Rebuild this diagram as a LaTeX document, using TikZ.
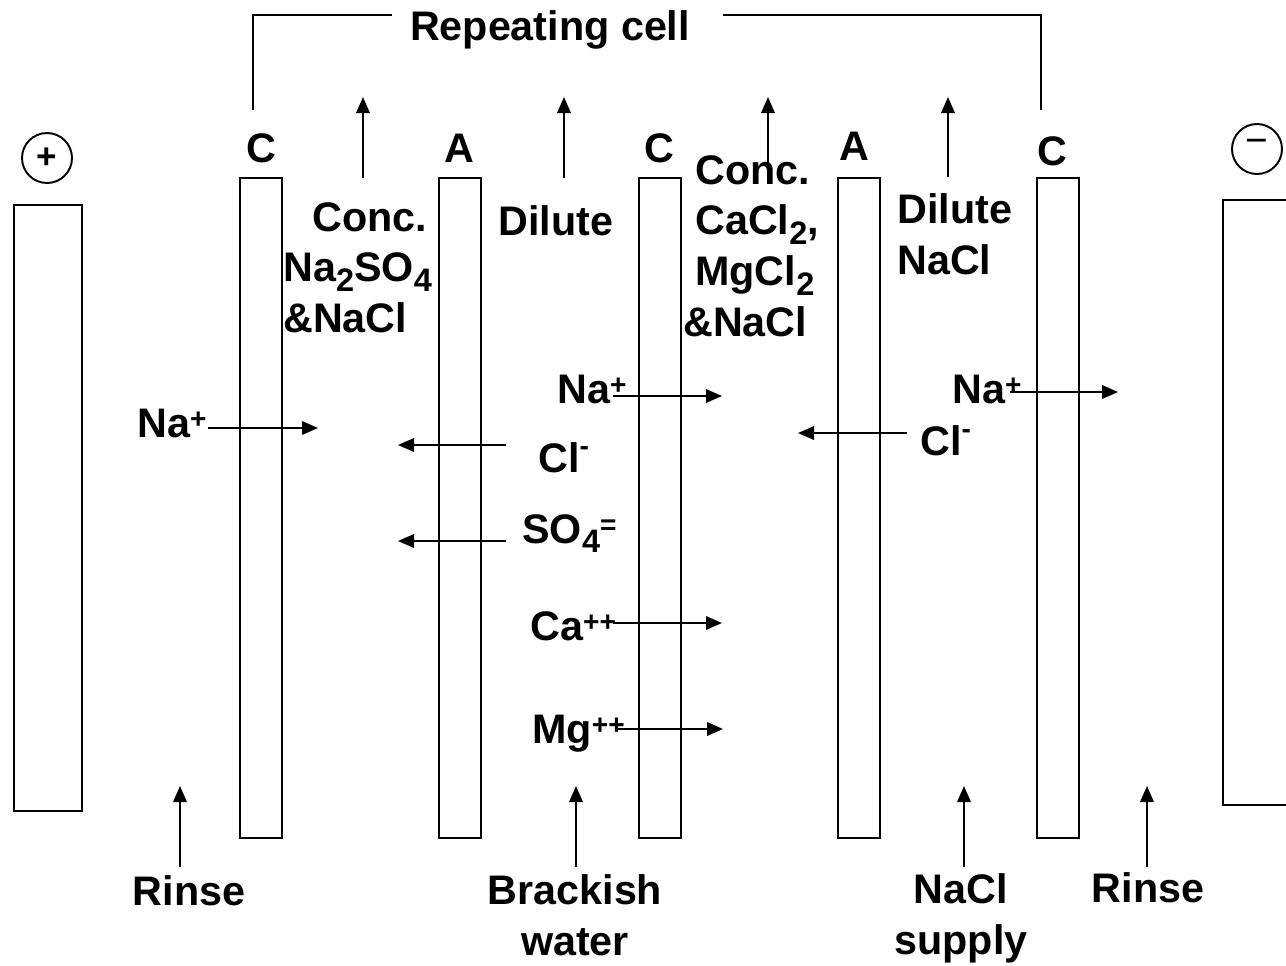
\documentclass[tikz,border=0pt]{standalone}
\usepackage{fontspec}
\setmainfont{Liberation Sans}
\usepackage{tikz}
\usetikzlibrary{arrows.meta}
\newcommand\ionsup[2][5pt]{\raisebox{#1}{\fontsize{16}{16}\selectfont #2}}
\newcommand\ionsub[1]{\raisebox{-5.5pt}{\fontsize{18.5}{18.5}\selectfont #1}}

\begin{document}
\begin{tikzpicture}[
  x=0.02cm, y=-0.02cm,
  every node/.style={font=\fontsize{23.5}{28.9}\selectfont\bfseries, inner sep=0pt},
  membrane/.style={draw, line width=1.1pt, minimum width=0.84cm, minimum height=13.2cm},
  electrode/.style={draw, line width=1.1pt, minimum width=1.36cm, minimum height=12.12cm},
  pole/.style={draw, circle, line width=1.1pt, minimum size=1cm},
  lbl/.style={anchor=base},
  ion/.style={anchor=base west},
  arr/.style={-{Triangle[length=0.32cm,width=0.27cm]}, line width=1.1pt},
  bracket/.style={line width=0.75pt}
]
  \useasboundingbox (0,0) rectangle (1286,965);

  % electrodes
  \node[electrode] (anode) at (48,508) {};
  \node[electrode, minimum width=2cm] (cathode) at (1273,502.5) {};
  \node[pole] (plus) at (47,158) {\fontsize{20}{22}\selectfont +};
  \node[pole] (minus) at (1257,149) {\raisebox{3pt}{\fontsize{22}{24}\selectfont\mdseries −}};

  % membranes
  \node[membrane] (c1) at (261,508) {};
  \node[membrane] (a1) at (460,508) {};
  \node[membrane] (c2) at (660,508) {};
  \node[membrane] (a2) at (859,508) {};
  \node[membrane] (c3) at (1058,508) {};
  \node[lbl] (c1lbl) at (261,162) {C};
  \node[lbl] (a1lbl) at (459,162) {A};
  \node[lbl] (c2lbl) at (659,162) {C};
  \node[lbl] (a2lbl) at (854,160) {A};
  \node[lbl] (c3lbl) at (1052,165) {C};

  % repeating cell bracket
  \node[lbl] (cell) at (550,40) {Repeating cell};
  \coordinate (cellL) at (253,110);
  \coordinate (cellLend) at (392,15);
  \coordinate (cellR) at (1041,110);
  \coordinate (cellRend) at (723,15);
  \draw[bracket] (cellL) |- (cellLend);
  \draw[bracket] (cellR) |- (cellRend);

  % outlet streams
  \node[anchor=north west, align=left] (concA) at (283,202) {\hspace*{0.58cm}Conc.\\Na\ionsub{2}SO\ionsub{4}\\\&NaCl};
  \node[anchor=north] (dilA) at (556,205) {Dilute};
  \node[anchor=north west, align=left] (concB) at (695,155) {Conc.\\CaCl\ionsub{2},\\MgCl\ionsub{2}\\\hspace*{-0.24cm}\&NaCl};
  \node[anchor=north west, align=left] (dilB) at (897,193) {Dilute\\NaCl};
  \coordinate (out1a) at (363,178);
  \coordinate (out1b) at (363,97);
  \coordinate (out2a) at (564,178);
  \coordinate (out2b) at (564,97);
  \coordinate (out3a) at (768,181);
  \coordinate (out3b) at (768,97);
  \coordinate (out4a) at (948,177);
  \coordinate (out4b) at (948,97);
  \draw[arr] (out1a) -- (out1b);
  \draw[arr] (out2a) -- (out2b);
  \draw[arr] (out3a) -- (out3b);
  \draw[arr] (out4a) -- (out4b);

  % inlet streams
  \node[anchor=north] (rinseL) at (189,875) {Rinse};
  \node[anchor=north, align=center] (brack) at (575,874) {Brackish\\water};
  \node[anchor=north, align=center] (supply) at (961,873) {NaCl\\supply};
  \node[anchor=north] (rinseR) at (1148,872) {Rinse};
  \coordinate (in1a) at (180,867);
  \coordinate (in1b) at (180,786);
  \coordinate (in2a) at (576,867);
  \coordinate (in2b) at (576,786);
  \coordinate (in3a) at (964,867);
  \coordinate (in3b) at (964,786);
  \coordinate (in4a) at (1147,867);
  \coordinate (in4b) at (1147,786);
  \draw[arr] (in1a) -- (in1b);
  \draw[arr] (in2a) -- (in2b);
  \draw[arr] (in3a) -- (in3b);
  \draw[arr] (in4a) -- (in4b);

  % ion transport
  \node[ion] (na1) at (137,437) {Na\ionsup{+}};
  \node[ion] (na2) at (557,403) {Na\ionsup{+}};
  \node[ion] (cl1) at (538,472) {Cl\ionsup[9.5pt]{-}};
  \node[ion] (so4) at (522,543) {SO\ionsub{4}\ionsup{=}};
  \node[ion] (ca) at (530,640) {Ca\ionsup{++}};
  \node[ion] (mg) at (532,743) {Mg\ionsup{++}};
  \node[ion] (na3) at (952,403) {Na\ionsup{+}};
  \node[ion] (cl2) at (920,455) {Cl\ionsup[9.5pt]{-}};
  \coordinate (na1a) at (208,428);
  \coordinate (na1b) at (318,428);
  \coordinate (na2a) at (613,396);
  \coordinate (na2b) at (722,396);
  \coordinate (cl1a) at (506,445);
  \coordinate (cl1b) at (398,445);
  \coordinate (so4a) at (506,541);
  \coordinate (so4b) at (398,541);
  \coordinate (caa) at (613,623);
  \coordinate (cab) at (722,623);
  \coordinate (mga) at (617,729);
  \coordinate (mgb) at (723,729);
  \coordinate (na3a) at (1010,392);
  \coordinate (na3b) at (1118,392);
  \coordinate (cl2a) at (907,433);
  \coordinate (cl2b) at (798,433);
  \draw[arr] (na1a) -- (na1b);
  \draw[arr] (na2a) -- (na2b);
  \draw[arr] (cl1a) -- (cl1b);
  \draw[arr] (so4a) -- (so4b);
  \draw[arr] (caa) -- (cab);
  \draw[arr] (mga) -- (mgb);
  \draw[arr] (na3a) -- (na3b);
  \draw[arr] (cl2a) -- (cl2b);
\end{tikzpicture}
\end{document}
